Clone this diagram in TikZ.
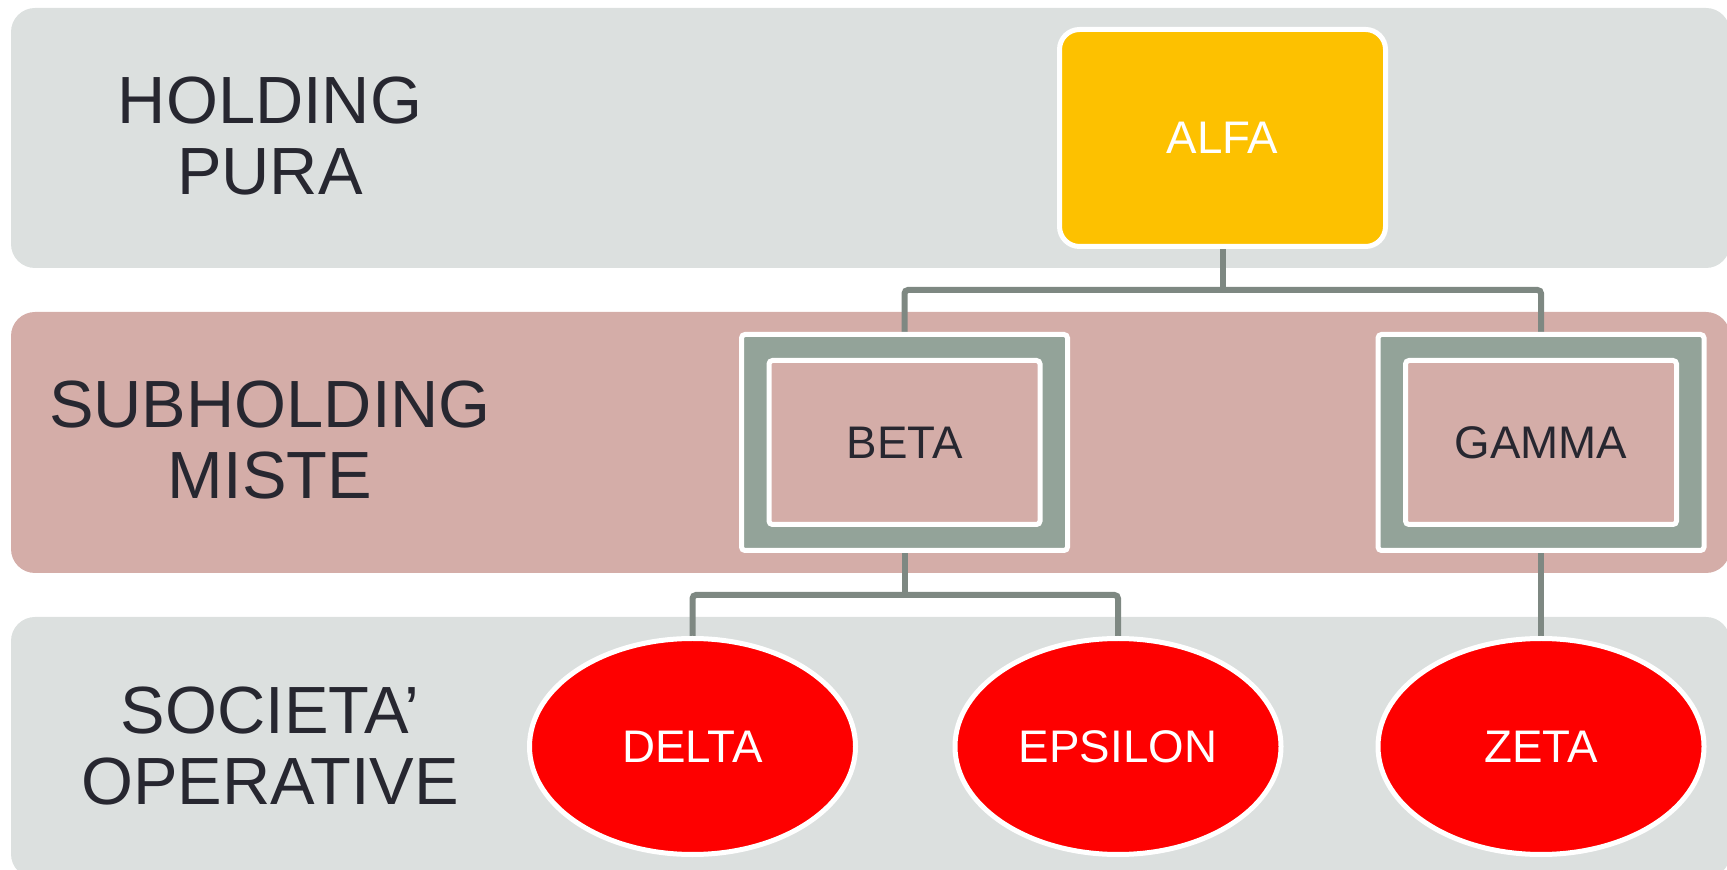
\documentclass[tikz,border=0pt]{standalone}
\usepackage{fontspec}
\setmainfont{Liberation Sans}
\usetikzlibrary{shapes.geometric,backgrounds}

\definecolor{bandgrey}{HTML}{DCE0DF}
\definecolor{bandpink}{HTML}{D4ADA8}
\definecolor{framegreen}{HTML}{93A399}
\definecolor{linkgrey}{HTML}{7E8882}
\definecolor{alfayellow}{HTML}{FDC100}
\definecolor{opred}{HTML}{FE0000}
\definecolor{inkdark}{HTML}{272730}

\tikzset{
  band/.style={rounded corners=0.24cm},
  levellabel/.style={text=inkdark, align=center, inner sep=0pt,
    font=\fontsize{19}{20}\selectfont},
  boxtext/.style={inner sep=0pt, font=\fontsize{13}{15}\selectfont},
  holdingbox/.style={boxtext, rectangle, rounded corners=0.2cm,
    fill=alfayellow, draw=white, line width=0.05cm, text=white,
    minimum width=3.26cm, minimum height=2.17cm},
  subframe/.style={rectangle, rounded corners=1pt, fill=framegreen,
    draw=white, line width=0.05cm, inner sep=0pt,
    minimum width=3.26cm, minimum height=2.16cm},
  subbox/.style={boxtext, rectangle, rounded corners=1pt, fill=bandpink,
    draw=white, line width=0.05cm, text=inkdark,
    minimum width=2.71cm, minimum height=1.64cm},
  opellipse/.style={boxtext, ellipse, fill=opred, draw=white,
    line width=0.05cm, text=white,
    minimum width=3.26cm, minimum height=2.16cm},
  link/.style={draw=linkgrey, line width=0.06cm, rounded corners=1pt}
}

\begin{document}
\begin{tikzpicture}
    \useasboundingbox (0,0) rectangle (17.27,-8.70);

    % livelli
    \node[levellabel] (lblholding) at (2.70,-1.36) {HOLDING\\PURA};
    \node[levellabel] (lblsub) at (2.70,-4.40) {SUBHOLDING\\MISTE};
    \node[levellabel] (lblsoc) at (2.70,-7.46) {SOCIETA’\\OPERATIVE};

    % societa'
    \node[holdingbox] (alfa) at (12.225,-1.38) {ALFA};

    \node[subframe] (betaframe) at (9.045,-4.425) {};
    \node[subbox] (beta) at (betaframe.center) {BETA};
    \node[subframe] (gammaframe) at (15.41,-4.425) {};
    \node[subbox] (gamma) at (gammaframe.center) {GAMMA};

    \node[opellipse] (delta) at (6.925,-7.465) {DELTA};
    \node[opellipse] (epsilon) at (11.18,-7.465) {EPSILON};
    \node[opellipse] (zeta) at (15.41,-7.465) {ZETA};

    \coordinate (alfahub) at ([yshift=-0.41cm]alfa.south);
    \coordinate (betahub) at ([yshift=-0.42cm]betaframe.south);

    \begin{scope}[on background layer]
        \fill[band, bandgrey] (0.11,-0.08) rectangle (17.30,-2.68);
        \fill[band, bandpink] (0.11,-3.12) rectangle (17.30,-5.73);
        \fill[band, bandgrey] (0.11,-6.17) rectangle (17.30,-8.78);

        \draw[link] (alfa) -- (alfahub);
        \draw[link] (betaframe.north) |- (alfahub) -| (gammaframe.north);
        \draw[link] (betaframe) -- (betahub);
        \draw[link] (delta.north) |- (betahub) -| (epsilon.north);
        \draw[link] (gammaframe) -- (zeta);
    \end{scope}
\end{tikzpicture}
\end{document}
